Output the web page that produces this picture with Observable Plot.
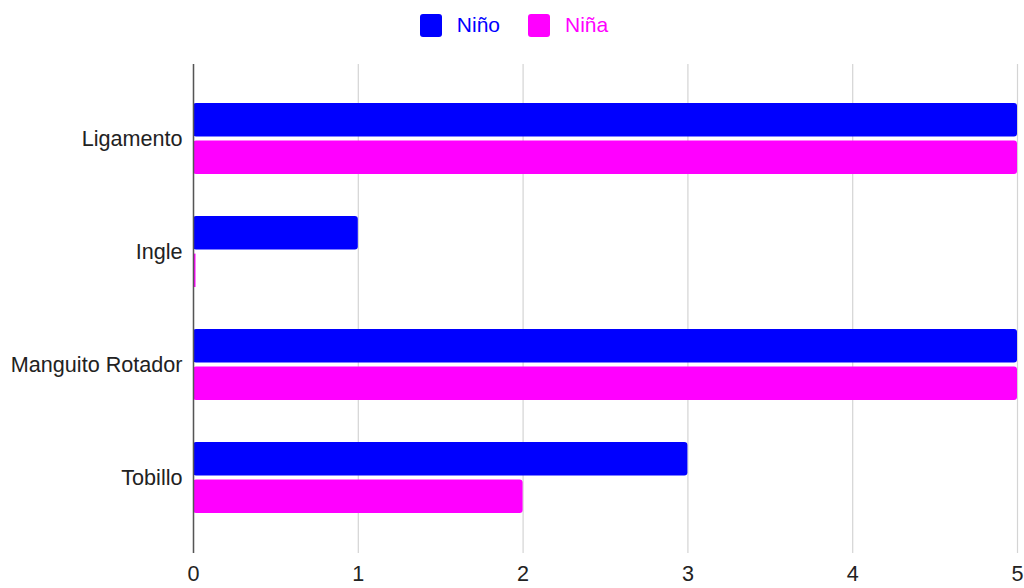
<!DOCTYPE html>
<html>
<head>
<meta charset="utf-8">
<script src="https://cdn.jsdelivr.net/npm/d3@7"></script>
<script src="https://cdn.jsdelivr.net/npm/@observablehq/plot@0.6"></script>
<style>
  html, body { margin: 0; padding: 0; background: #fff; }
  body { width: 1024px; height: 588px; overflow: hidden; font-family: "Liberation Sans", Arial, sans-serif; }
  #legend { height: 50px; display: flex; justify-content: center; align-items: center; position: relative; padding-left: 4px; box-sizing: border-box; }
  .item { display: flex; align-items: center; margin: 0 14px; font-size: 21px; }
  .sw { width: 22px; height: 23px; border-radius: 3px; margin-right: 15px; }
  svg { display: block; }
</style>
</head>
<body>
<div id="legend"></div>
<div id="chart"></div>
<script>
const categories = ["Ligamento", "Ingle", "Manguito Rotador", "Tobillo"];
const series = ["Niño", "Niña"];
const colors = ["#0000ff", "#ff00ff"];
const ninoValues = [5, 1, 5, 3];
const ninaValues = [5, 0, 5, 2];
const xTicks = [0, 1, 2, 3, 4, 5];

const data = [];
categories.forEach((c, i) => {
  data.push({cat: c, series: series[0], v: ninoValues[i]});
  data.push({cat: c, series: series[1], v: ninaValues[i]});
});

// legend
const legend = document.getElementById("legend");
series.forEach((s, i) => {
  const it = document.createElement("div");
  it.className = "item";
  it.innerHTML = `<div class="sw" style="background:${colors[i]}"></div><span style="color:${colors[i]}">${s}</span>`;
  legend.appendChild(it);
});

const halfInset = 37.6;

const chart = Plot.plot({
  width: 1024,
  height: 538,
  marginTop: 14,
  marginBottom: 35,
  marginLeft: 193,
  marginRight: 7,
  style: {fontFamily: "'Liberation Sans', Arial, sans-serif", fontSize: "21.6px", color: "#222", background: "#fff"},
  x: {domain: [0, 5], ticks: xTicks, label: null},
  y: {domain: categories, paddingInner: 0.37, paddingOuter: 0.185, insetTop: 18, insetBottom: 19, label: null},
  color: {domain: series, range: colors},
  marks: [
    Plot.gridX(xTicks, {stroke: "#d4d4d4", strokeOpacity: 1, strokeWidth: 1.2}),
    Plot.barX(data.filter(d => d.series === series[0]), {y: "cat", x: "v", fill: "series", insetBottom: halfInset, rx: 3}),
    Plot.barX(data.filter(d => d.series === series[1]), {y: "cat", x: "v", fill: "series", insetTop: halfInset, rx: 3}),
    Plot.tickX(data.filter(d => d.v === 0), {y: "cat", x: "v", stroke: "series", insetTop: halfInset, strokeWidth: 2, dx: 1}),
    Plot.ruleX([0], {stroke: "#555", strokeWidth: 1.5}),
    Plot.axisX(xTicks, {tickSize: 0, tickPadding: 12, fontSize: 21.6, fill: "#222", label: null, tickFormat: d3.format("d")}),
    Plot.axisY({tickSize: 0, tickPadding: 11, fontSize: 21.6, fill: "#222", label: null})
  ]
});
document.getElementById("chart").appendChild(chart);
</script>
</body>
</html>
